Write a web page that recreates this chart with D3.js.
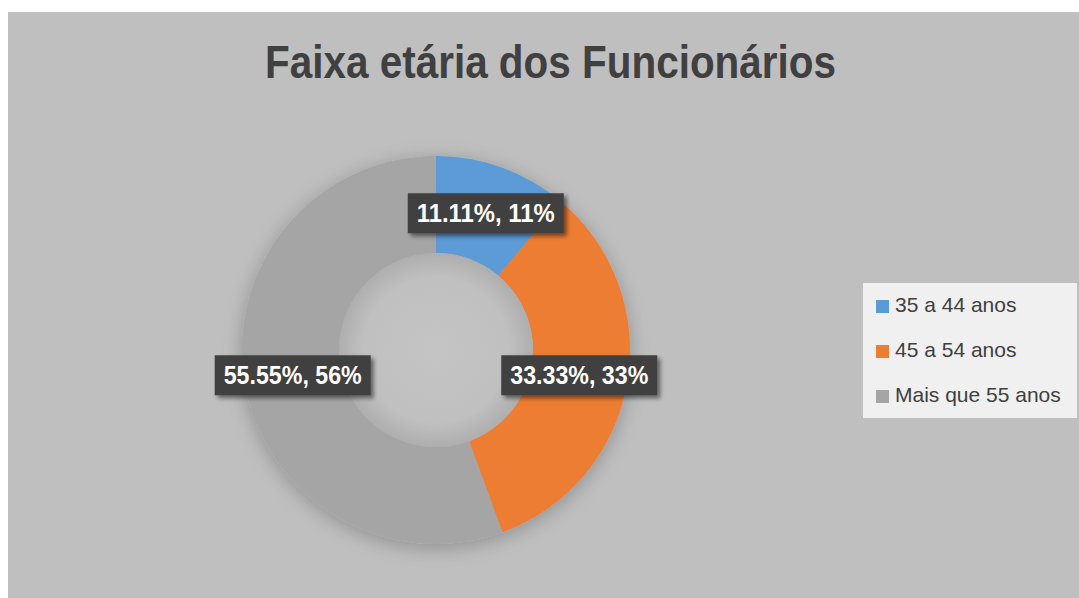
<!DOCTYPE html>
<html><head><meta charset="utf-8">
<script src="https://cdn.jsdelivr.net/npm/d3@7"></script>
<style>html,body{margin:0;padding:0;background:#fff;}svg{display:block;}</style>
</head><body>
<script>
const title = "Faixa etária dos Funcionários";
const categories = ["35 a 44 anos", "45 a 54 anos", "Mais que 55 anos"];
const values = [11.11, 33.33, 55.55];
const roundedPct = ["11%", "33%", "56%"];
const colors = ["#5B9BD5", "#ED7D31", "#A5A5A5"];

const W = 1079, H = 598;
const svg = d3.select("body").append("svg").attr("width", W).attr("height", H);
const defs = svg.append("defs");

const sh = defs.append("filter").attr("id","ringShadow").attr("x","-30%").attr("y","-30%").attr("width","160%").attr("height","160%");
sh.append("feGaussianBlur").attr("in","SourceAlpha").attr("stdDeviation",10).attr("result","b");
sh.append("feOffset").attr("in","b").attr("dx",0).attr("dy",4).attr("result","o");
sh.append("feComponentTransfer").attr("in","o").attr("result","o2").append("feFuncA").attr("type","linear").attr("slope",0.25);
const m1 = sh.append("feMerge"); m1.append("feMergeNode").attr("in","o2"); m1.append("feMergeNode").attr("in","SourceGraphic");

const bs = defs.append("filter").attr("id","boxShadow").attr("x","-20%").attr("y","-40%").attr("width","140%").attr("height","180%");
bs.append("feGaussianBlur").attr("in","SourceAlpha").attr("stdDeviation",2).attr("result","b");
bs.append("feOffset").attr("in","b").attr("dx",3).attr("dy",3).attr("result","o");
bs.append("feComponentTransfer").attr("in","o").attr("result","o2").append("feFuncA").attr("type","linear").attr("slope",0.5);
const m2 = bs.append("feMerge"); m2.append("feMergeNode").attr("in","o2"); m2.append("feMergeNode").attr("in","SourceGraphic");

const hg = defs.append("radialGradient").attr("id","holeGrad");
hg.append("stop").attr("offset","0%").attr("stop-color","#C4C4C4");
hg.append("stop").attr("offset","75%").attr("stop-color","#C0C0C0");
hg.append("stop").attr("offset","100%").attr("stop-color","#AEAEAE");

// background
svg.append("rect").attr("x",8).attr("y",12).attr("width",W-8).attr("height",H-12).attr("fill","#BFBFBF");

// title
svg.append("text").attr("x",550.5).attr("y",78).attr("text-anchor","middle")
  .attr("font-family","'Liberation Sans', Arial, sans-serif").attr("font-weight","bold")
  .attr("font-size",47).attr("fill","#404040")
  .attr("textLength",571).attr("lengthAdjust","spacingAndGlyphs").text(title);

const cx = 436, cy = 350, rOut = 194, rIn = 97;
const g = svg.append("g").attr("transform",`translate(${cx},${cy})`);
const pie = d3.pie().sort(null).value(d => d);
const arcs = pie(values);
const arc = d3.arc().innerRadius(rIn).outerRadius(rOut);

const ring = g.append("g").attr("filter","url(#ringShadow)");
ring.selectAll("path").data(arcs).join("path").attr("d",arc).attr("fill",(d,i)=>colors[i]);
g.append("circle").attr("r",rIn).attr("fill","url(#holeGrad)");

// labels
const lblG = g.append("g");
arcs.forEach((d,i) => {
  const [x,y] = arc.centroid(d);
  const txt = values[i].toFixed(2) + "%, " + roundedPct[i];
  const lg = lblG.append("g").attr("transform",`translate(${x},${y})`);
  const box = lg.append("rect").attr("fill","#404040").attr("filter","url(#boxShadow)");
  lg.append("text").attr("text-anchor","middle").attr("dy","0.36em")
    .attr("font-family","'Liberation Sans', Arial, sans-serif").attr("font-weight","bold")
    .attr("font-size",25).attr("fill","#FFFFFF").attr("textLength",138).attr("lengthAdjust","spacingAndGlyphs").text(txt);
  const bw = 156, bh = 40;
  box.attr("x",-bw/2).attr("y",-bh/2).attr("width",bw).attr("height",bh);
});

// legend
const lx = 863, ly = 283;
svg.append("rect").attr("x",lx).attr("y",ly).attr("width",214).attr("height",135).attr("fill","#F0F0F0");
const legend = svg.append("g");
categories.forEach((c,i) => {
  const y = 312 + i*45;
  legend.append("rect").attr("x",876).attr("y",y-12).attr("width",13).attr("height",13).attr("fill",colors[i]);
  legend.append("text").attr("x",895).attr("y",y)
    .attr("font-family","'Liberation Sans', Arial, sans-serif").attr("font-size",21).attr("fill","#404040").text(c);
});
</script>
</body></html>
